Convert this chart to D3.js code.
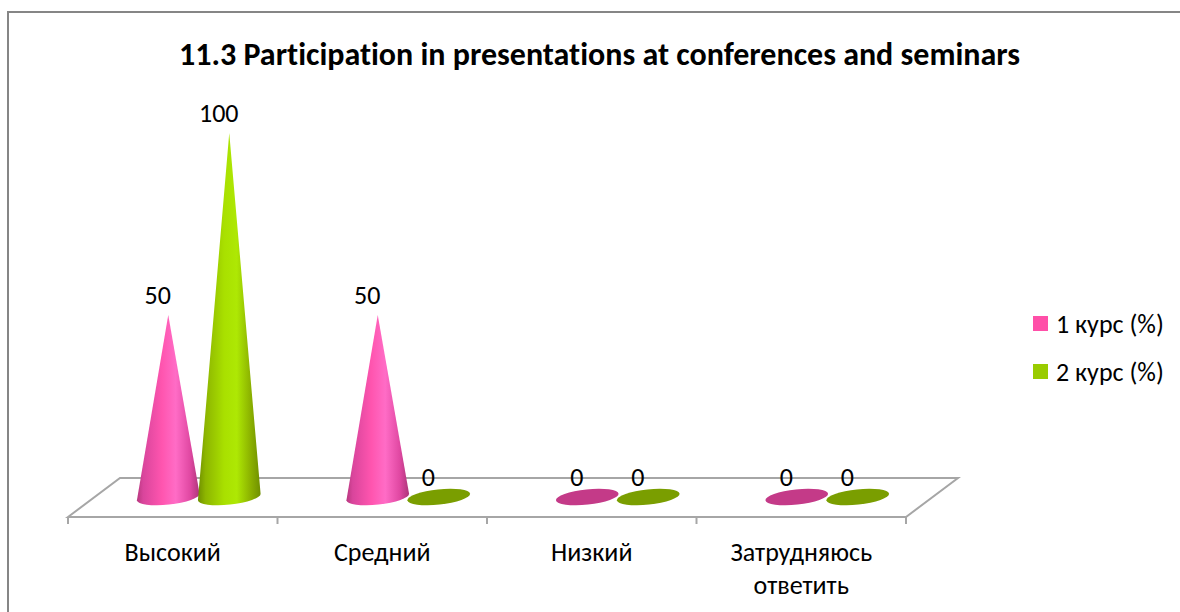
<!DOCTYPE html>
<html>
<head>
<meta charset="utf-8">
<script src="https://cdn.jsdelivr.net/npm/d3@7"></script>
<style>
  html, body { margin: 0; padding: 0; background: #fff; overflow: hidden; }
  text { font-family: Carlito, "Liberation Sans", "Open Sans", sans-serif; fill: #000; font-variant-ligatures: none; }
</style>
</head>
<body>
<script>
let chartTitle = '11.3 Participation in presentations at conferences and seminars';
let categories = ['Высокий', 'Средний', 'Низкий', 'Затрудняюсь ответить'];
let seriesNames = ['1 курс (%)', '2 курс (%)'];
let course1 = [50, 50, 0, 0];
let course2 = [100, 0, 0, 0];

(function () {

  let totalWidth = 1180, totalHeight = 612;

  // floor of the fake 3d plot
  let floorLeft = 68, floorRight = 906, floorFront = 517, floorBack = 478, depth = 52;
  let baseY = 497;       // centre of the cone bases
  let rx = 31.5, ry = 7.6, tilt = -6;

  let svg = d3.select('body').append('svg')
      .attr('width', totalWidth)
      .attr('height', totalHeight);

  let defs = svg.append('defs');

  function coneGradient(id, stops) {
    let g = defs.append('linearGradient').attr('id', id);
    stops.forEach(function (s) {
      g.append('stop').attr('offset', s[0]).attr('stop-color', s[1]);
    });
  }

  coneGradient('pink', [[0, '#b8387f'], [0.1, '#d9459c'], [0.4, '#ff55af'], [0.62, '#ff6cc6'], [0.85, '#e048a2'], [1, '#ad3579']]);
  coneGradient('green', [[0, '#6f8f00'], [0.12, '#8db500'], [0.42, '#a9e000'], [0.62, '#aee804'], [0.85, '#8aaf00'], [1, '#6f8f00']]);

  // chart frame, runs off the right and bottom of the picture
  svg.append('rect')
      .attr('x', 8).attr('y', 12)
      .attr('width', 1190).attr('height', 620)
      .attr('fill', '#fff')
      .attr('stroke', '#868686')
      .attr('stroke-width', 2);

  svg.append('text')
      .attr('x', 599.5).attr('y', 65)
      .attr('text-anchor', 'middle')
      .style('font-size', '32px')
      .style('font-weight', 'bold')
      .text(chartTitle);

  let x = d3.scaleBand().domain(categories).range([floorLeft, floorRight]);
  let inner = d3.scaleBand().domain(d3.range(seriesNames.length)).range([0, x.bandwidth()]).paddingOuter(0.717);
  let y = d3.scaleLinear().domain([0, 100]).range([baseY, 133]);

  // floor
  svg.append('path')
      .attr('d', d3.line()([[floorLeft, floorFront], [floorLeft + depth, floorBack], [floorRight + depth, floorBack], [floorRight, floorFront]]) + 'Z')
      .attr('fill', '#fff')
      .attr('stroke', '#a6a6a6')
      .attr('stroke-width', 2);

  // axis, ticks sit on the band edges
  let axis = svg.append('g').attr('transform', 'translate(0,' + floorFront + ')');
  let edges = categories.map(function (c) { return x(c); }).concat([floorRight]);
  axis.selectAll('line.edge').data(edges).enter().append('line')
      .attr('class', 'edge')
      .attr('x1', function (d) { return d; }).attr('x2', function (d) { return d; })
      .attr('y1', 0).attr('y2', 7)
      .attr('stroke', '#a6a6a6')
      .attr('stroke-width', 2);

  let labels = axis.selectAll('text.cat').data(categories).enter().append('text')
      .attr('class', 'cat')
      .attr('text-anchor', 'middle')
      .attr('transform', function (d) { return 'translate(' + (x(d) + x.bandwidth() / 2) + ',0)'; })
      .style('font-size', '26px');
  labels.selectAll('tspan').data(function (d) { return d.split(' '); }).enter().append('tspan')
      .attr('x', 0)
      .attr('y', function (d, i) { return 44 + i * 33; })
      .text(function (d) { return d; });

  // cones, back to front and left to right
  let rows = [];
  categories.forEach(function (c, i) {
    [course1[i], course2[i]].forEach(function (v, s) {
      rows.push({ category: c, series: s, value: v });
    });
  });

  function cx(d) { return x(d.category) + inner(d.series) + inner.bandwidth() / 2 + depth / 2; }

  let gradIds = ['pink', 'green'];
  let flatColors = ['#c43a88', '#7a9e00'];

  let cone = svg.selectAll('g.cone').data(rows).enter().append('g')
      .attr('class', 'cone')
      .attr('transform', function (d) { return 'translate(' + cx(d) + ',' + baseY + ')'; });

  let a = tilt * Math.PI / 180;
  let lx = -rx * Math.cos(a), ly = -rx * Math.sin(a);

  cone.filter(function (d) { return d.value > 0; }).append('path')
      .attr('d', function (d) {
        let tipY = y(d.value) - baseY;
        return 'M0,' + tipY + 'L' + lx + ',' + ly +
          'A' + rx + ',' + ry + ' ' + tilt + ' 0 0 ' + (-lx) + ',' + (-ly) + 'Z';
      })
      .attr('fill', function (d) { return 'url(#' + gradIds[d.series] + ')'; });

  cone.filter(function (d) { return d.value === 0; }).append('ellipse')
      .attr('rx', rx)
      .attr('ry', ry)
      .attr('transform', 'rotate(' + tilt + ')')
      .attr('fill', function (d) { return flatColors[d.series]; });

  // value labels
  svg.selectAll('text.value').data(rows).enter().append('text')
      .attr('class', 'value')
      .attr('x', function (d) { return cx(d) - 10.5; })
      .attr('y', function (d) { return y(d.value) - 11; })
      .attr('text-anchor', 'middle')
      .style('font-size', '26px')
      .text(function (d) { return d.value; });

  // legend
  let legendColors = ['#ff4fa8', '#99cc00'];
  let legend = svg.selectAll('g.legend').data(seriesNames).enter().append('g')
      .attr('class', 'legend')
      .attr('transform', function (d, i) { return 'translate(1033,' + (316 + i * 48) + ')'; });
  legend.append('rect')
      .attr('width', 15).attr('height', 15)
      .attr('fill', function (d, i) { return legendColors[i]; });
  legend.append('text')
      .attr('x', 23).attr('y', 17)
      .style('font-size', '26px')
      .text(function (d) { return d; });

})();
</script>
</body>
</html>
